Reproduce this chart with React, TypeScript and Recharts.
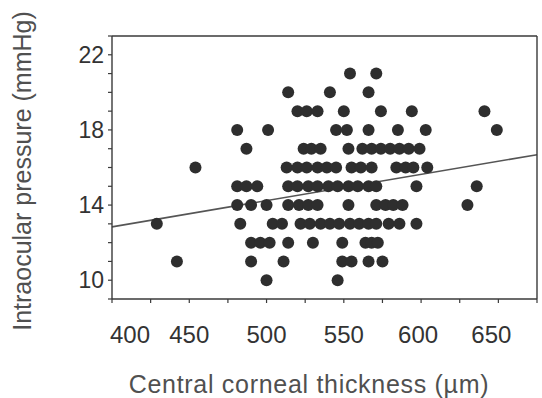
import React from 'react';
import { ScatterChart, Scatter, XAxis, YAxis, ReferenceLine } from 'recharts';

// Central corneal thickness (µm) of each eye, grouped by intraocular pressure (mmHg)
const iop10 = [500, 546];
const iop11 = [442, 490, 511, 549, 555, 566, 575];
const iop12 = [490, 496, 502, 514, 530, 549, 564, 568, 572];
const iop13 = [429, 483, 504, 510, 522, 528, 535, 541, 547, 554, 560, 566, 571, 579, 586, 597];
const iop14 = [481, 490, 500, 514, 521, 527, 533, 553, 571, 577, 582, 588, 630];
const iop15 = [481, 487, 494, 514, 520, 527, 533, 540, 546, 553, 559, 566, 571, 597, 636];
const iop16 = [454, 513, 520, 526, 533, 539, 545, 555, 561, 568, 584, 590, 595, 604];
const iop17 = [487, 524, 529, 535, 553, 562, 568, 574, 580, 586, 592, 599];
const iop18 = [481, 501, 545, 552, 566, 585, 603, 649];
const iop19 = [520, 526, 533, 550, 574, 594, 641];
const iop20 = [514, 541, 566];
const iop21 = [554, 571];

const iopLevels = [10, 11, 12, 13, 14, 15, 16, 17, 18, 19, 20, 21];
const cctByLevel = [iop10, iop11, iop12, iop13, iop14, iop15, iop16, iop17, iop18, iop19, iop20, iop21];

// Least-squares regression line end points
const fitLine = [
  { x: 400, y: 12.84 },
  { x: 675, y: 16.68 },
];

const xTicks = [400, 425, 450, 475, 500, 525, 550, 575, 600, 625, 650, 675];
const xLabels = [400, 450, 500, 550, 600, 650];
const yTicks = [9, 10, 11, 12, 13, 14, 15, 16, 17, 18, 19, 20, 21, 22, 23];
const yLabels = [10, 14, 18, 22];

const points = cctByLevel.flatMap((row, i) =>
  row.map((cct) => ({ cct, iop: iopLevels[i] }))
);

const FONT = '"Liberation Sans", Arial, sans-serif';
const INK = '#2e2e2e';
const AXIS = '#3a3a3a';

// small horizontal nudges for the x labels; the first one clears the axis corner
const labelNudge: Record<number, number> = { 400: 18, 600: -3, 650: -7 };

const XTick = (props: any) => {
  const { x, y, payload } = props;
  const v = payload.value;
  if (!xLabels.includes(v)) return null;
  return (
    <text
      x={x + (labelNudge[v] ?? 0)}
      y={y}
      dy="0.71em"
      textAnchor="middle"
      fontFamily={FONT}
      fontSize={24}
      fill="#333"
    >
      {v}
    </text>
  );
};

const Dot = (props: any) => {
  const { cx, cy } = props;
  if (cx == null || cy == null) return null;
  return <circle cx={cx} cy={cy} r={6} fill={INK} />;
};

export default function App() {
  return (
    <div style={{ position: 'absolute', left: 0, top: 0, width: 542, height: 398, background: '#fff' }}>
      <ScatterChart
        width={542}
        height={398}
        margin={{ top: 26, right: 0, bottom: 39, left: 72 }}
      >
        <XAxis
          dataKey="cct"
          type="number"
          domain={[400, 675]}
          ticks={xTicks}
          height={60}
          axisLine={{ stroke: AXIS, strokeWidth: 1.4 }}
          tickLine={{ stroke: AXIS, strokeWidth: 1.2 }}
          tickSize={4}
          tickMargin={23}
          tick={<XTick />}
          interval={0}
          allowDataOverflow
        />
        <XAxis
          xAxisId="top"
          orientation="top"
          type="number"
          domain={[400, 675]}
          ticks={xTicks}
          height={10}
          axisLine={{ stroke: AXIS, strokeWidth: 1.4 }}
          tickLine={{ stroke: AXIS, strokeWidth: 1.2 }}
          tickSize={4}
          tick={false}
          interval={0}
          allowDataOverflow
        />
        <YAxis
          dataKey="iop"
          type="number"
          domain={[9, 23]}
          ticks={yTicks}
          width={40}
          axisLine={{ stroke: AXIS, strokeWidth: 1.4 }}
          tickLine={{ stroke: AXIS, strokeWidth: 1.2 }}
          tickSize={4}
          tickMargin={4}
          interval={0}
          tickFormatter={(v: number) => (yLabels.includes(v) ? String(v) : '')}
          tick={{ fontFamily: FONT, fontSize: 23, fill: '#333' }}
          allowDataOverflow
        />
        <YAxis
          yAxisId="right"
          orientation="right"
          type="number"
          domain={[9, 23]}
          ticks={yTicks}
          width={5}
          axisLine={{ stroke: AXIS, strokeWidth: 1.4 }}
          tickLine={{ stroke: AXIS, strokeWidth: 1.2 }}
          tickSize={4}
          tick={false}
          interval={0}
          allowDataOverflow
        />
        <ReferenceLine
          segment={fitLine}
          stroke="#555"
          strokeWidth={1.6}
          ifOverflow="visible"
        />
        <Scatter data={points} dataKey="iop" shape={<Dot />} isAnimationActive={false} />
      </ScatterChart>
      <svg
        width={542}
        height={398}
        style={{ position: 'absolute', left: 0, top: 0, pointerEvents: 'none' }}
      >
        <text
          x={309}
          y={393}
          textAnchor="middle"
          fontFamily={FONT}
          fontSize={25}
          letterSpacing={0.7}
          fill="#505050"
        >
          Central corneal thickness (µm)
        </text>
        <text
          transform="translate(31 171) rotate(-90)"
          textAnchor="middle"
          fontFamily={FONT}
          fontSize={25}
          fill="#505050"
        >
          Intraocular pressure (mmHg)
        </text>
      </svg>
    </div>
  );
}
